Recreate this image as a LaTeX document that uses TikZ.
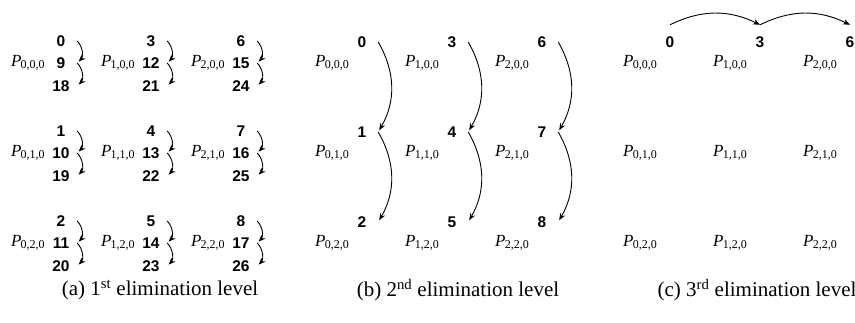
\documentclass[tikz,border=0pt]{standalone}
\usepackage{fontspec}
\setmainfont{Liberation Serif}
\newfontfamily\numfont{Liberation Sans}
\usetikzlibrary{arrows.meta}

\newcommand{\pname}[3]{\textit{P}\kern-0.8pt\raisebox{-0.3ex}{\fontsize{12}{12}\selectfont #1,#2,#3}}

\tikzset{
  num/.style={font=\fontsize{15.5}{15.5}\selectfont\numfont\bfseries, minimum width=32pt, inner sep=0pt},
  plab/.style={font=\fontsize{17}{17}\selectfont, inner sep=0pt},
  elim/.style={-{Stealth[length=7pt,width=5.5pt]}, line width=0.9pt},
  caption/.style={font=\fontsize{21}{21}\selectfont}
}

\begin{document}
\begin{tikzpicture}[x=1pt,y=-1pt]
\useasboundingbox (0,0) rectangle (855,323);

% (a) first level
\foreach \i in {0,1,2}
\foreach \j in {0,1,2} {
  \pgfmathtruncatemacro{\va}{3*\i+\j}
  \pgfmathtruncatemacro{\vb}{\va+9}
  \pgfmathtruncatemacro{\vc}{\va+18}
  \node[num] (a\i\j-t) at ({61+90*\i},{41+90*\j}) {\va};
  \node[num] (a\i\j-m) at ({61+90*\i},{63+90*\j}) {\vb};
  \node[num] (a\i\j-b) at ({61+90*\i},{86+90*\j}) {\vc};
  \node[plab,anchor=east] (pa\i\j) at (a\i\j-m.west) {\pname{\i}{\j}{0}};
  \draw[elim,shorten >=2pt] (a\i\j-t.east) to[bend left=45] (a\i\j-m.east);
  \draw[elim,shorten >=2pt] (a\i\j-m.east) to[bend left=45] (a\i\j-b.east);
}
\node[caption] (capa) at (160,290) {(a) 1\textsuperscript{st} elimination level};

% (b) second level
\foreach \i in {0,1,2}
\foreach \j in {0,1,2} {
  \pgfmathtruncatemacro{\va}{3*\i+\j}
  \node[num] (b\i\j) at ({362+90*\i},{42+90*\j}) {\va};
  \node[plab] (pb\i\j) at ({332+90*\i},{63+90*\j}) {\pname{\i}{\j}{0}};
}
\foreach \i in {0,1,2} {
  \draw[elim,shorten >=2pt] (b\i0.east) to[bend left=30] (b\i1.east);
  \draw[elim,shorten >=2pt] (b\i1.east) to[bend left=30] (b\i2.east);
}
\node[caption] (capb) at (458,290) {(b) 2\textsuperscript{nd} elimination level};

% (c) third level
\foreach \i in {0,1,2} {
  \pgfmathtruncatemacro{\va}{3*\i}
  \node[num,minimum height=34pt] (c\i) at ({670+90*\i},42) {\va};
  \foreach \j in {0,1,2}
    \node[plab] (pc\i\j) at ({640+90*\i},{63+90*\j}) {\pname{\i}{\j}{0}};
}
\draw[elim] (c0.north) to[bend left=26] (c1.north);
\draw[elim] (c1.north) to[bend left=26] (c2.north);
\node[caption] (capc) at (757,290) {(c) 3\textsuperscript{rd} elimination level};
\end{tikzpicture}
\end{document}
